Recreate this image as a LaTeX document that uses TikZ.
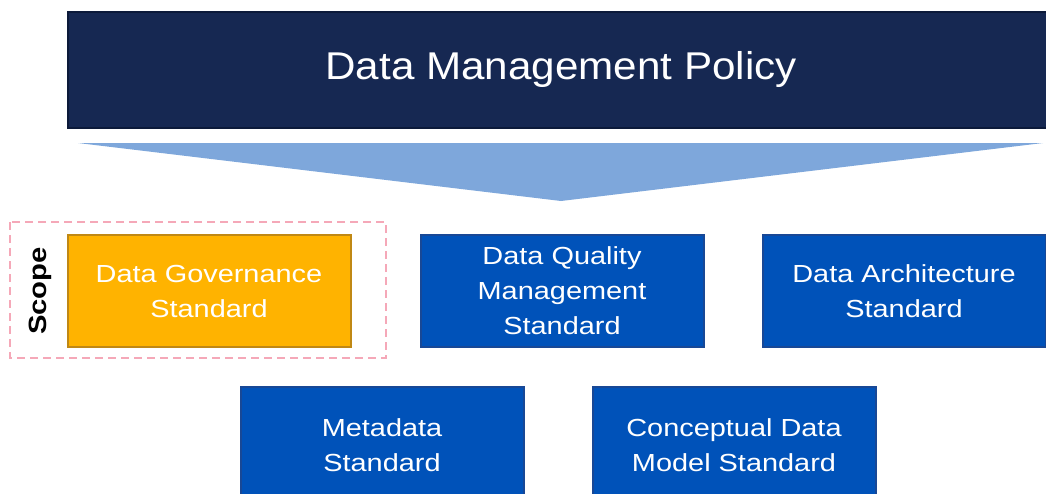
\documentclass[tikz,border=0pt]{standalone}
\usepackage{fontspec}
\setmainfont{Liberation Sans}
\newfontfamily\titlefont[FakeStretch=1.09]{Liberation Sans}
\newfontfamily\boxfont[FakeStretch=1.17]{Liberation Sans}
\definecolor{navy}{RGB}{22,40,82}
\definecolor{navyedge}{RGB}{12,26,58}
\definecolor{funnel}{RGB}{126,167,219}
\definecolor{stdblue}{RGB}{0,82,185}
\definecolor{stdedge}{RGB}{24,72,150}
\definecolor{govfill}{RGB}{255,179,0}
\definecolor{govedge}{RGB}{192,136,20}
\definecolor{scopeline}{RGB}{245,168,184}
\tikzset{
  stdbox/.style={draw=stdedge, fill=stdblue, line width=2pt, text=white,
    minimum width=283pt, align=center, inner sep=0pt,
    font=\boxfont\fontsize{24.7pt}{35pt}\selectfont},
  govbox/.style={stdbox, draw=govedge, fill=govfill},
  titlebox/.style={draw=navyedge, fill=navy, line width=2pt, text=white,
    inner sep=0pt, font=\titlefont\fontsize{38.7pt}{44pt}\selectfont},
  scopebox/.style={draw=scopeline, line width=1.4pt, dash pattern=on 8pt off 5pt},
}
\begin{document}
\begin{tikzpicture}[x=1pt,y=-1pt]
\useasboundingbox (0,0) rectangle (1046,493);
\clip (0,0) rectangle (1046,493);

% policy banner (runs past the right edge)
\node[titlebox, minimum width=1000pt, minimum height=116pt, anchor=north west] (policy) at (67,11) {};
\node[text=white, font=\titlefont\fontsize{38.7pt}{44pt}\selectfont, inner sep=0pt] (policytext) at (561,69) {Data Management Policy};

% funnel pointing down to the standards
\fill[funnel] (78,143) -- (1043,143) -- (561,201) -- cycle;

% scope frame around the governance standard
\draw[scopebox] (10,222) rectangle (386,358);
\node[rotate=90, font=\boxfont\bfseries\fontsize{25pt}{30pt}\selectfont, inner sep=0pt] (scope) at (40,291) {Scope};

% first row of standards
\node[govbox, minimum height=112pt] (gov) at (209,291) {Data Governance\\Standard};
\node[stdbox, minimum height=112pt] (dq) at (562,291) {Data Quality\\Management\\Standard};
\node[stdbox, minimum height=112pt] (da) at (904,291) {Data Architecture\\Standard};

% second row of standards (cut by the lower edge)
\node[stdbox, minimum height=116pt] (meta) at (382,445) {Metadata\\Standard};
\node[stdbox, minimum height=116pt] (cdm) at (734,445) {Conceptual Data\\Model Standard};
\end{tikzpicture}
\end{document}
